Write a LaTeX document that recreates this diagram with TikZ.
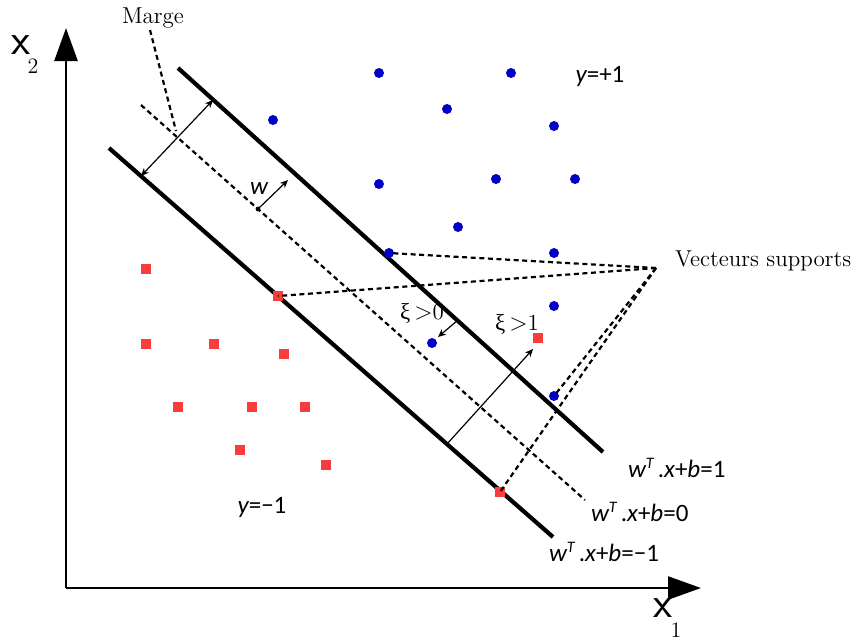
\documentclass[tikz,border=0pt]{standalone}
\usepackage{fontspec}
\usetikzlibrary{arrows.meta}
\newfontfamily\eqfont{Carlito}
\newfontfamily\grkfont{Liberation Serif}
\definecolor{svmB}{RGB}{0,0,200}
\definecolor{svmR}{RGB}{250,60,60}
% hyperplane label w^T.x+b=c
\newcommand{\hyp}[1]{{\eqfont\itshape w}\raisebox{0.8ex}{\eqfont\itshape\fontsize{8}{8}\selectfont T}\,{\eqfont.\itshape x}{\eqfont +}{\eqfont\itshape b}{\eqfont =#1}}
\newcommand{\slack}[1]{{\grkfont ξ}\,$>$#1}

\begin{document}
\begin{tikzpicture}[x=0.5pt, y=-0.5pt,
  bdot/.style={circle, fill=svmB, inner sep=0pt, minimum size=5pt},
  rsq/.style={rectangle, fill=svmR, inner sep=0pt, minimum size=5pt},
  hplane/.style={line width=2.1pt},
  mplane/.style={line width=1.1pt, dash pattern=on 2.5pt off 1.8pt},
  lbl/.style={font=\fontsize{11.5}{13}\selectfont},
  eq/.style={font=\fontsize{12.5}{15}\selectfont},
  small/.style={-{Stealth[length=4pt, width=3.5pt]}, line width=0.6pt}]
\useasboundingbox (0,0) rectangle (851,639);
% axes
\coordinate (O) at (66,588);
\draw[line width=1.25pt, -{Triangle[length=16.5pt, width=11.5pt]}] (O) -- (66,28) coordinate (ytip);
\draw[line width=1.25pt, -{Triangle[length=16.5pt, width=11.5pt]}] (O) -- (701,588) coordinate (xtip);
\node[font=\fontsize{22}{22}\sffamily] (xtwo) at (21,45) {x};
\node[font=\fontsize{11}{11}\selectfont] at (33,66) {2};
\node[font=\fontsize{22}{22}\sffamily] (xone) at (663,608) {x};
\node[font=\fontsize{11}{11}\selectfont] at (676,630) {1};
% the three hyperplanes
\draw[hplane] (178,68) coordinate (p1) -- (603,452) coordinate (p2);
\draw[mplane] (141,105) coordinate (m1) -- (585,500) coordinate (m2);
\draw[hplane] (109,148) coordinate (n1) -- (553,537) coordinate (n2);
\node[eq, anchor=west] (hp) at (621,468) {\hyp{1}};
\node[eq, anchor=west] (hz) at (584,512) {\hyp{0}};
\node[eq, anchor=west] (hn) at (542,552) {\hyp{−1}};
% class +1
\foreach \x/\y [count=\i] in {379/73, 511/73, 447/109, 273/120, 554/126, 379/184,
    496/179, 575/179, 458/227, 554/253, 554/306, 432/343}
  \node[bdot] (b\i) at (\x,\y) {};
\node[bdot] (sva) at (389,253) {};
\node[bdot] (svb) at (554,396) {};
\node[eq] (yp) at (600,76) {{\eqfont\itshape y}{\eqfont =+1}};
% class -1
\foreach \x/\y [count=\i] in {146/269, 146/344, 214/344, 284/354, 178/407, 252/407,
    305/407, 240/450, 326/465, 538/338}
  \node[rsq] (r\i) at (\x,\y) {};
\node[rsq] (svc) at (278,296) {};
\node[rsq] (svd) at (500,492) {};
\node[eq] (ym) at (262,507) {{\eqfont\itshape y}{\eqfont =−1}};
% margin
\coordinate (ma) at (141,176);
\coordinate (mb) at (213,100);
\draw[{Stealth[length=4pt, width=3.5pt]}-{Stealth[length=4pt, width=3.5pt]}, line width=0.6pt] (ma) -- (mb);
\node[lbl] (marge) at (153,18) {Marge};
\draw[mplane] (150,30) -- (176,131);
% normal vector w
\coordinate (w0) at (258,209);
\coordinate (w1) at (288,180);
\fill (w0) circle (1.2pt);
\draw[small] (w0) -- (w1);
\node[eq] (wl) at (259,189) {{\eqfont\itshape w}};
% slack variables
\coordinate (xa) at (458,320);
\coordinate (xb) at (438,337);
\draw[small] (xa) -- (xb);
\node[lbl] (xil) at (422,313) {\slack{0}};
\coordinate (xc) at (447,444);
\coordinate (xd) at (533,349);
\draw[small] (xc) -- (xd);
\node[lbl] (xig) at (517,324) {\slack{1}};
% support vectors
\coordinate (vsp) at (656,268);
\node[lbl, anchor=west] (vs) at (668,261) {Vecteurs supports};
\draw[mplane] (vsp) -- (sva.center);
\draw[mplane] (vsp) -- (svc.center);
\draw[mplane] (vsp) -- (svb.center);
\draw[mplane] (vsp) -- (svd.center);
\end{tikzpicture}
\end{document}
